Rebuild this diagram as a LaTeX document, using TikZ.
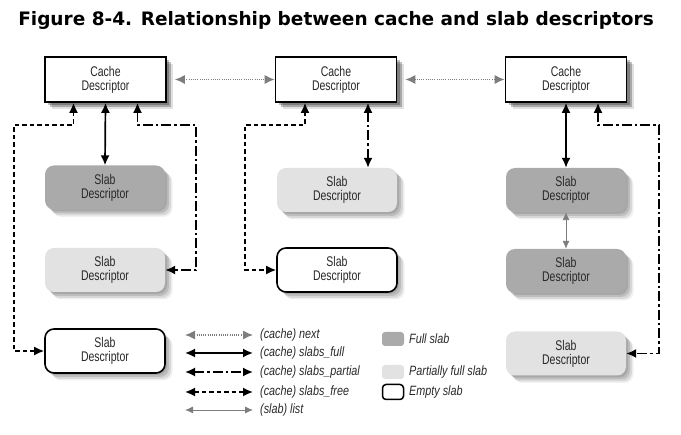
\documentclass[tikz,border=0pt]{standalone}
\usepackage{fontspec}
\setmainfont{Liberation Sans}
\newfontfamily\titlefont{DejaVu Sans}
\newfontfamily\condfont[FakeStretch=0.75]{Liberation Sans}
\newfontface\legfont[FakeStretch=0.8]{Liberation Sans Italic}
\usetikzlibrary{arrows.meta,shadows}
\definecolor{fullgray}{RGB}{170,170,170}
\definecolor{partgray}{RGB}{226,226,226}
\definecolor{nextgray}{RGB}{125,125,125}
\definecolor{txtgray}{RGB}{40,40,40}
\begin{document}
\begin{tikzpicture}[x=1pt,y=-1pt,
  boxfont/.style={font=\condfont\fontsize{14}{14}\selectfont, text=txtgray},
  softshadow/.style={
    drop shadow={shadow xshift=2pt, shadow yshift=-2pt, fill=black, opacity=.12},
    drop shadow={shadow xshift=4pt, shadow yshift=-4pt, fill=black, opacity=.12},
    drop shadow={shadow xshift=6pt, shadow yshift=-6pt, fill=black, opacity=.10},
    drop shadow={shadow xshift=7.5pt, shadow yshift=-7.5pt, fill=black, opacity=.06}},
  cachebox/.style={boxfont, draw, line width=1.6pt, fill=white, minimum width=121pt, minimum height=45pt, align=center, inner sep=0pt,
    drop shadow={shadow xshift=3pt, shadow yshift=-3pt, fill=black, opacity=.25},
    drop shadow={shadow xshift=5pt, shadow yshift=-5pt, fill=black, opacity=.25},
    drop shadow={shadow xshift=7pt, shadow yshift=-7pt, fill=black, opacity=.12}},
  slabbox/.style={boxfont, rounded corners=9pt, minimum width=120pt, minimum height=44pt, align=center, inner sep=0pt, softshadow},
  fullslab/.style={slabbox, fill=fullgray},
  partslab/.style={slabbox, fill=partgray},
  emptyslab/.style={slabbox, fill=white, draw, line width=1.6pt},
  tip/.style={{Latex[length=10pt,width=9pt]}-{Latex[length=10pt,width=9pt]}},
  fulll/.style={tip, line width=1.7pt},
  partl/.style={tip, line width=1.7pt, dash pattern=on 10pt off 3pt on 2.5pt off 3pt},
  freel/.style={tip, line width=1.7pt, dash pattern=on 4.5pt off 3pt},
  nextl/.style={{Latex[length=10pt,width=9pt]}-{Latex[length=10pt,width=9pt]}, draw=nextgray, line width=1.3pt, dash pattern=on 1pt off 1.2pt},
  listl/.style={{Latex[length=8pt,width=7pt]}-{Latex[length=8pt,width=7pt]}, draw=nextgray, line width=0.9pt},
  legtext/.style={anchor=west, inner sep=0pt, text=txtgray, font=\legfont\fontsize{13.5}{15}\selectfont}
]
\useasboundingbox (0,0) rectangle (681,435);
\node[font=\titlefont\bfseries\fontsize{18.5}{20}\selectfont] (title) at (336,20) {Figure 8-4. Relationship between cache and slab descriptors};

% cache descriptors
\node[cachebox] (C1) at (105.5,79.5) {Cache\\Descriptor};
\node[cachebox] (C2) at (336,79.5) {Cache\\Descriptor};
\node[cachebox] (C3) at (566,79.5) {Cache\\Descriptor};

% slab descriptors
\node[fullslab]  (S1) at (105,187.5) {Slab\\Descriptor};
\node[partslab]  (S2) at (105,270) {Slab\\Descriptor};
\node[emptyslab] (S3) at (105,351) {Slab\\Descriptor};
\node[partslab]  (S4) at (337,190) {Slab\\Descriptor};
\node[emptyslab] (S5) at (337,270) {Slab\\Descriptor};
\node[fullslab]  (S6) at (566,190) {Slab\\Descriptor};
\node[fullslab]  (S7) at (566,271) {Slab\\Descriptor};
\node[partslab]  (S8) at (566,353.5) {Slab\\Descriptor};

% corner coordinates
\coordinate (f1) at (14,125);
\coordinate (p1) at (196,125);
\coordinate (f2) at (245,125);
\coordinate (p3) at (659,125);

% next links
\draw[nextl] ([xshift=8pt]C1.east) -- (C2.west);
\draw[nextl] ([xshift=8pt]C2.east) -- (C3.west);

% cache 1
\draw[fulll] (C1.south) -- (S1.north);
\draw[freel] ([xshift=-32pt]C1.south) |- (f1) |- (S3.west);
\draw[partl] ([xshift=32pt]C1.south) |- (p1) |- (S2.east);

% cache 2
\draw[freel] ([xshift=-31pt]C2.south) |- (f2) |- (S5.west);
\draw[partl] ([xshift=32pt]C2.south) -- ([xshift=31pt]S4.north);

% cache 3
\draw[fulll] (C3.south) -- (S6.north);
\draw[listl] (S6.south) -- (S7.north);
\draw[partl] ([xshift=32pt]C3.south) |- (p3) |- (S8.east);

% legend lines
\coordinate (La1) at (185,335); \coordinate (Lb1) at (253,335);
\coordinate (La2) at (185,353); \coordinate (Lb2) at (253,353);
\coordinate (La3) at (185,372); \coordinate (Lb3) at (253,372);
\coordinate (La4) at (185,392); \coordinate (Lb4) at (253,392);
\coordinate (La5) at (185,410); \coordinate (Lb5) at (253,410);
\draw[nextl] (La1) -- (Lb1);
\draw[fulll] (La2) -- (Lb2);
\draw[partl] (La3) -- (Lb3);
\draw[freel] (La4) -- (Lb4);
\draw[listl] (La5) -- (Lb5);
\node[legtext] (t1) at (260,335) {(cache) next};
\node[legtext] (t2) at (260,353) {(cache) slabs\_full};
\node[legtext] (t3) at (260,372) {(cache) slabs\_partial};
\node[legtext] (t4) at (260,392) {(cache) slabs\_free};
\node[legtext] (t5) at (260,410) {(slab) list};

% legend boxes
\node[fill=fullgray, rounded corners=3pt, minimum width=22pt, minimum height=14pt, inner sep=0pt] (k1) at (393,339) {};
\node[fill=partgray, rounded corners=3pt, minimum width=22pt, minimum height=14pt, inner sep=0pt] (k2) at (393,372) {};
\node[draw, line width=1.5pt, fill=white, rounded corners=3.5pt, minimum width=21pt, minimum height=15pt, inner sep=0pt] (k3) at (393,392) {};
\node[legtext] (t6) at (409,339) {Full slab};
\node[legtext] (t7) at (409,372) {Partially full slab};
\node[legtext] (t8) at (409,392) {Empty slab};
\end{tikzpicture}
\end{document}
